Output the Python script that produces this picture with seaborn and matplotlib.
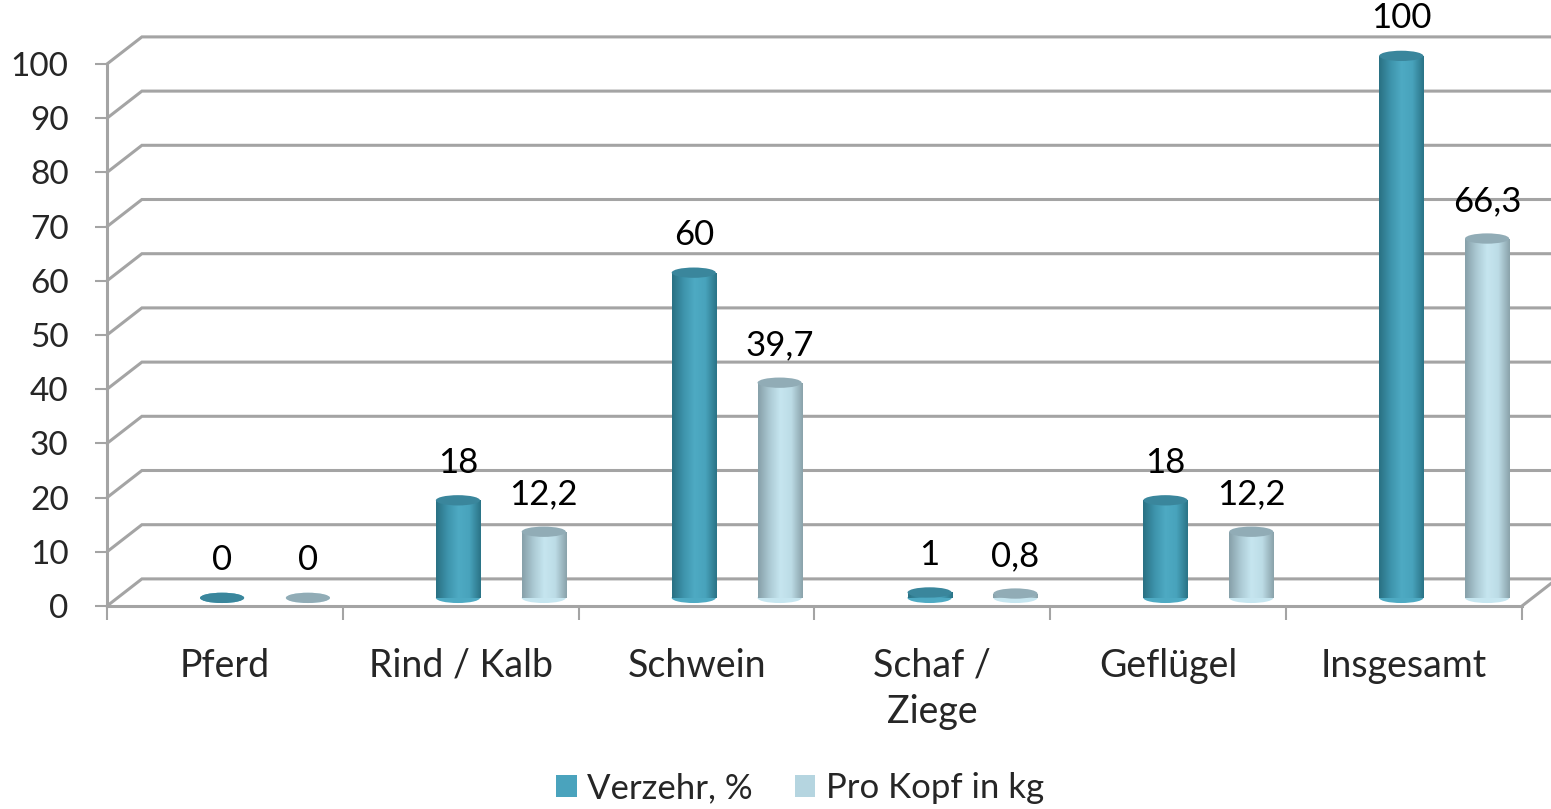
import numpy as np
import pandas as pd
import matplotlib
matplotlib.use("Agg")
import matplotlib.pyplot as plt
import seaborn as sns
from matplotlib.patches import Ellipse, Patch
from matplotlib.colors import LinearSegmentedColormap

# data
categories = ["Pferd", "Rind / Kalb", "Schwein", "Schaf /\nZiege", "Geflügel", "Insgesamt"]
verzehr = [0, 18, 60, 1, 18, 100]
pro_kopf = [0, 12.2, 39.7, 0.8, 12.2, 66.3]
series = ["Verzehr, %", "Pro Kopf in kg"]
verzehr_labels = ["0", "18", "60", "1", "18", "100"]
pro_kopf_labels = ["0", "12,2", "39,7", "0,8", "12,2", "66,3"]
y_ticks = list(range(0, 101, 10))

df = pd.DataFrame({
    "cat": categories * 2,
    "value": verzehr + pro_kopf,
    "series": [series[0]] * 6 + [series[1]] * 6,
    "label": verzehr_labels + pro_kopf_labels,
})

sns.set_theme(style="white")
plt.rcParams["font.family"] = ["Lato", "DejaVu Sans"]

W, H = 1551, 809
fig = plt.figure(figsize=(W / 100, H / 100), dpi=100)
ax = fig.add_axes([107 / W, (H - 606) / H, (1522 - 107) / W, (606 - 64) / H])

grid_c = "#a4a4a4"
depth_dx, depth_dy = 0.148, 5.0       # back wall offset
bar_dx, bar_dy = 0.17, 1.5            # bars sit a bit behind the front

palette = {series[0]: "#4aa3bd", series[1]: "#b5d5e0"}
grads = {
    series[0]: LinearSegmentedColormap.from_list("d", ["#2a7183", "#3d93ab", "#4eaac3", "#48a3bc", "#2b7487"]),
    series[1]: LinearSegmentedColormap.from_list("l", ["#87a0a9", "#abc9d3", "#c6e6f0", "#bcdbe5", "#8aa3ab"]),
}
tops = {series[0]: "#3a869c", series[1]: "#91acb6"}

sns.barplot(data=df, x="cat", y="value", hue="series", palette=palette,
            width=0.728, gap=0.486, dodge=True, legend=False, ax=ax,
            saturation=1, zorder=3)

# back wall + floor
for v in y_ticks:
    ax.plot([-0.5, -0.5 + depth_dx, 5.7], [v, v + depth_dy, v + depth_dy],
            color=grid_c, lw=2.2, clip_on=False, zorder=1, solid_joinstyle="miter")
ax.plot([5.5, 5.5 + depth_dx], [0, depth_dy], color=grid_c, lw=2.2, clip_on=False, zorder=1)

ell_h = 1.9
for patch, (_, row) in zip(ax.patches, df.iterrows()):
    patch.set_x(patch.get_x() + bar_dx)
    patch.set_y(patch.get_y() + bar_dy)
    x0, w, h = patch.get_x(), patch.get_width(), patch.get_height()
    xc = x0 + w / 2
    top = bar_dy + h
    s = row["series"]
    patch.set_edgecolor("none")
    # bottom cap
    ax.add_patch(Ellipse((xc, bar_dy), w, ell_h, facecolor=grads[s](0.5),
                         edgecolor="none", zorder=2.9, clip_on=False))
    if h > 0:
        grad = np.linspace(0, 1, 64).reshape(1, -1)
        im = ax.imshow(grad, cmap=grads[s], aspect="auto", extent=[x0, x0 + w, bar_dy, top],
                       zorder=3.5, interpolation="bicubic")
        im.set_clip_path(patch)
    ax.add_patch(Ellipse((xc, top), w, ell_h, facecolor=tops[s],
                         edgecolor="none", zorder=4, clip_on=False))
    ax.annotate(row["label"], (xc, top), xytext=(0, 27), textcoords="offset points",
                ha="center", va="center", fontsize=25, color="black", zorder=5,
                annotation_clip=False)

ax.set_xlim(-0.5, 5.5)
ax.set_ylim(0, 100)
ax.set_facecolor("none")
for side in ["top", "right"]:
    ax.spines[side].set_visible(False)
for side in ["left", "bottom"]:
    ax.spines[side].set_color(grid_c)
    ax.spines[side].set_linewidth(2.2)
    ax.spines[side].set_zorder(2)

ax.set_yticks(y_ticks)
ax.set_yticklabels([str(t) for t in y_ticks])
ax.tick_params(axis="y", direction="out", length=8.6, width=1.5, color=grid_c,
               labelsize=24, pad=19, left=True)
ax.set_xticks(range(len(categories)))
ax.set_xticklabels(categories)
ax.set_xticks(np.arange(-0.5, 6, 1), minor=True)
ax.tick_params(axis="x", which="major", length=0, labelsize=27, pad=30)
ax.tick_params(axis="x", which="minor", direction="out", length=10, width=1.5,
               color=grid_c, bottom=True)
for lab in ax.get_xticklabels():
    lab.set_linespacing(1.35)
ax.set_xlabel("")
ax.set_ylabel("")
ax.grid(False)

handles = [Patch(facecolor=palette[s], edgecolor="none", label=s) for s in series]
fig.legend(handles=handles, loc="center", bbox_to_anchor=(800 / W, 1 - 788 / H),
           ncol=2, frameon=False, fontsize=25, handlelength=0.6, handleheight=0.6,
           handletextpad=0.3, columnspacing=1.2)

fig.savefig("out.png", dpi=100)
